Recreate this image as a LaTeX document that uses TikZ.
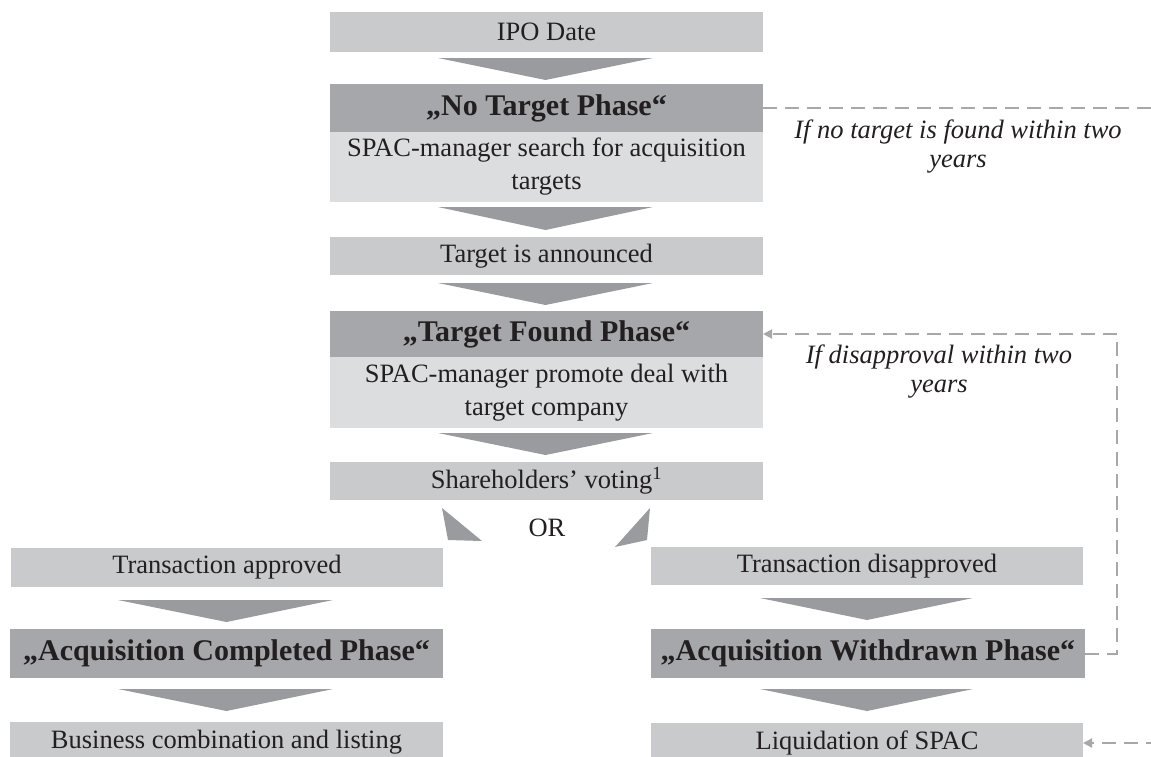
\documentclass[tikz,border=0pt]{standalone}
\usepackage{fontspec}
\setmainfont{Liberation Serif}
\usetikzlibrary{arrows.meta}
\definecolor{boxgray}{HTML}{C9CACC}
\definecolor{descgray}{HTML}{DCDDDF}
\definecolor{phasegray}{HTML}{A6A7AA}
\definecolor{chevgray}{HTML}{9A9B9E}
\definecolor{dashgray}{HTML}{A8A8A8}
\definecolor{txt}{HTML}{231F20}
\tikzset{
  every node/.style={text=txt, inner sep=0pt, outer sep=0pt},
  lbox/.style={fill=boxgray, minimum width=433pt, font=\fontsize{26.5}{32}\selectfont},
  descbox/.style={fill=descgray, minimum width=433pt, align=center, font=\fontsize{26.5}{33}\selectfont},
  phasebox/.style={fill=phasegray, minimum width=433pt, font=\fontsize{30}{34}\selectfont\bfseries},
  chev/.style={fill=chevgray, draw=none},
  loopline/.style={draw=dashgray, line width=2pt, dash pattern=on 14pt off 8pt},
  looparrow/.style={loopline, -{Triangle[length=9pt,width=9pt]}},
  note/.style={align=center, font=\fontsize{26.5}{29}\selectfont\itshape}
}
\begin{document}
\begin{tikzpicture}[x=1pt,y=-1pt]
\useasboundingbox (0,0) rectangle (1151,756);
\clip (0,0) rectangle (1151,756);
% central column
\node[lbox, minimum height=40pt] (ipo) at (546.5,32) {IPO Date};
\node[phasebox, minimum height=48pt] (ntp) at (546.5,108) {„No Target Phase“};
\node[descbox, minimum height=70pt] (ntd) at (546.5,167) {SPAC-manager search for acquisition\\targets};
\node[lbox, minimum height=38pt] (tia) at (546.5,256) {Target is announced};
\node[phasebox, minimum height=46pt] (tfp) at (546.5,334) {„Target Found Phase“};
\node[descbox, minimum height=71pt] (tfd) at (546.5,392.5) {SPAC-manager promote deal with\\target company};
\node[lbox, minimum height=38pt] (sv) at (546.5,481) {Shareholders’ voting\textsuperscript{1}};
\node[font=\fontsize{26.5}{30}\selectfont] (or) at (547,528) {OR};
% left column
\node[lbox, minimum width=432pt, minimum height=39pt] (ta) at (227,567.5) {Transaction approved};
\node[phasebox, minimum width=433pt, minimum height=49pt] (acp) at (226.5,653.5) {„Acquisition Completed Phase“};
\node[lbox, minimum width=433pt, minimum height=40pt] (bcl) at (226.5,742) {Business combination and listing};
% right column
\node[lbox, minimum width=432pt, minimum height=38pt] (td) at (867,566) {Transaction disapproved};
\node[phasebox, minimum width=434pt, minimum height=49pt] (awp) at (868,653.5) {„Acquisition Withdrawn Phase“};
\node[lbox, minimum width=432pt, minimum height=40pt] (liq) at (867,743) {Liquidation of SPAC};
% chevrons
\fill[chev] (438,58) -- (653,58) -- (545.5,80) -- cycle;
\fill[chev] (438,207) -- (653,207) -- (545.5,230) -- cycle;
\fill[chev] (438,283) -- (653,283) -- (545.5,305) -- cycle;
\fill[chev] (438,433) -- (653,433) -- (545.5,455) -- cycle;
\fill[chev] (442,508) -- (482,541) -- (448,540) -- cycle;
\fill[chev] (650,508) -- (615,547) -- (647,540) -- cycle;
\fill[chev] (118,600) -- (333,600) -- (226.5,622) -- cycle;
\fill[chev] (118,689) -- (333,689) -- (226.5,711) -- cycle;
\fill[chev] (760,598) -- (973,598) -- (867,620) -- cycle;
\fill[chev] (760,689) -- (973,689) -- (867,711) -- cycle;
% dashed loops
\coordinate (edgeA) at (1160,108);
\coordinate (edgeB) at (1160,743);
\draw[loopline] (ntp.east) -- (edgeA);
\draw[looparrow] (awp.east) -- ++(32,0) |- (tfp.east);
\draw[looparrow] (edgeB) -- (liq.east);
% notes
\node[note] (n1) at (958,147) {If no target is found within two\\years};
\node[note] (n2) at (939,372) {If disapproval within two\\years};
\end{tikzpicture}
\end{document}
